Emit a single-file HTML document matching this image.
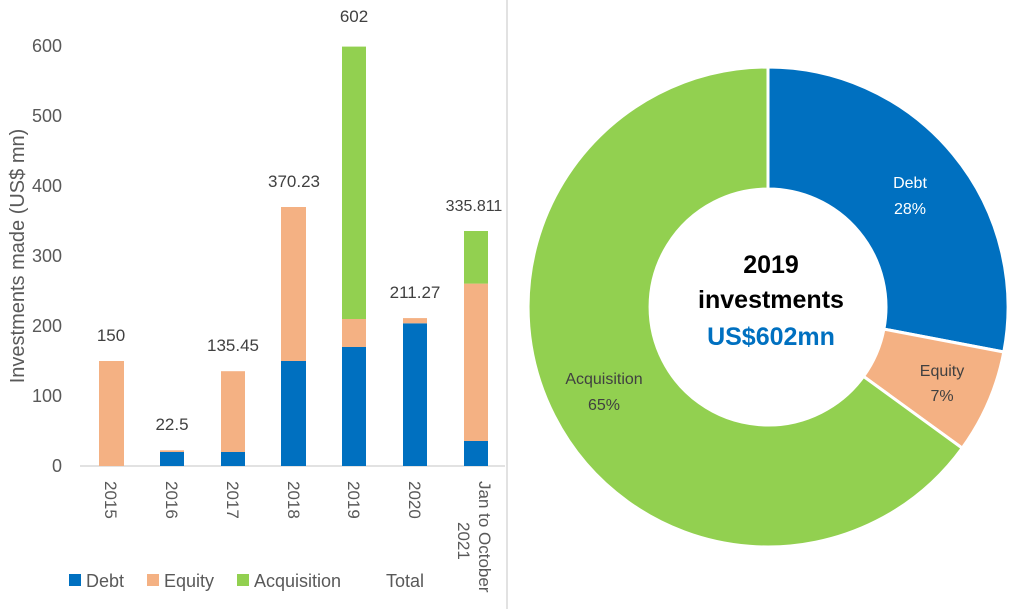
<!DOCTYPE html>
<html><head><meta charset="utf-8"><style>
body{margin:0;background:#fff;width:1024px;height:609px;overflow:hidden}
svg text{font-family:"Liberation Sans",sans-serif}
</style></head><body>
<svg width="1024" height="609" viewBox="0 0 1024 609">
<line x1="507" y1="0" x2="507" y2="609" stroke="#d9d9d9" stroke-width="1.5"/>
<g fill="#595959" font-size="18" text-anchor="end">
<text x="62" y="472">0</text><text x="62" y="402">100</text><text x="62" y="332">200</text>
<text x="62" y="262">300</text><text x="62" y="192">400</text><text x="62" y="122">500</text><text x="62" y="52">600</text>
</g>
<text transform="translate(24,256) rotate(-90)" text-anchor="middle" fill="#595959" font-size="20">Investments made (US$ mn)</text>
<line x1="80" y1="466" x2="505" y2="466" stroke="#d9d9d9" stroke-width="1.5"/>
<g>
<rect x="99" y="361" width="25" height="105" fill="#F4B183"/>
<rect x="160" y="452" width="24" height="14" fill="#0070C0"/><rect x="160" y="450.3" width="24" height="1.7" fill="#F4B183"/>
<rect x="221" y="452" width="24" height="14" fill="#0070C0"/><rect x="221" y="371.2" width="24" height="80.8" fill="#F4B183"/>
<rect x="281" y="361" width="25" height="105" fill="#0070C0"/><rect x="281" y="207" width="25" height="154" fill="#F4B183"/>
<rect x="342" y="347" width="24" height="119" fill="#0070C0"/><rect x="342" y="319" width="24" height="28" fill="#F4B183"/><rect x="342" y="46.6" width="24" height="272.4" fill="#92D050"/>
<rect x="403" y="323.3" width="24" height="142.7" fill="#0070C0"/><rect x="403" y="318.1" width="24" height="5.2" fill="#F4B183"/>
<rect x="464" y="441" width="24" height="25" fill="#0070C0"/><rect x="464" y="283.6" width="24" height="157.4" fill="#F4B183"/><rect x="464" y="231" width="24" height="52.6" fill="#92D050"/>
</g>
<g fill="#404040" font-size="17" text-anchor="middle">
<text x="111" y="341">150</text><text x="172" y="430">22.5</text><text x="233" y="351">135.45</text>
<text x="294" y="187">370.23</text><text x="354" y="22">602</text><text x="415" y="298">211.27</text><text x="474" y="211" font-size="16">335.811</text>
</g>
<g fill="#595959" font-size="17">
<text transform="translate(105,481) rotate(90)">2015</text>
<text transform="translate(166,481) rotate(90)">2016</text>
<text transform="translate(227,481) rotate(90)">2017</text>
<text transform="translate(288,481) rotate(90)">2018</text>
<text transform="translate(348,481) rotate(90)">2019</text>
<text transform="translate(409,481) rotate(90)">2020</text>
<text transform="translate(479,481) rotate(90)">Jan to October</text>
<text transform="translate(458,522) rotate(90)">2021</text>
</g>
<g font-size="18" fill="#595959">
<rect x="69" y="574" width="12" height="12" fill="#0070C0"/><text x="86" y="587">Debt</text>
<rect x="147" y="574" width="12" height="12" fill="#F4B183"/><text x="164" y="587">Equity</text>
<rect x="237" y="574" width="12" height="12" fill="#92D050"/><text x="254" y="587">Acquisition</text>
<text x="386" y="587">Total</text>
</g>
<g stroke="#fff" stroke-width="3">
<path d="M768,67 A240,240 0 0 1 1003.8,352 L883.9,329.1 A118,118 0 0 0 768,189 Z" fill="#0070C0"/>
<path d="M1003.8,352 A240,240 0 0 1 962.2,448.1 L863.5,376.4 A118,118 0 0 0 883.9,329.1 Z" fill="#F4B183"/>
<path d="M962.2,448.1 A240,240 0 1 1 768,67 L768,189 A118,118 0 1 0 863.5,376.4 Z" fill="#92D050"/>
</g>
<g font-size="16" text-anchor="middle">
<text x="910" y="188" fill="#fff">Debt</text><text x="910" y="214" fill="#fff">28%</text>
<text x="942" y="376" fill="#404040">Equity</text><text x="942" y="401" fill="#404040">7%</text>
<text x="604" y="384" fill="#404040">Acquisition</text><text x="604" y="410" fill="#404040">65%</text>
</g>
<g font-weight="bold" font-size="25" text-anchor="middle">
<text x="771" y="273" fill="#000">2019</text>
<text x="771" y="308" fill="#000">investments</text>
<text x="771" y="345" fill="#0070C0">US$602mn</text>
</g>
</svg>
</body></html>
